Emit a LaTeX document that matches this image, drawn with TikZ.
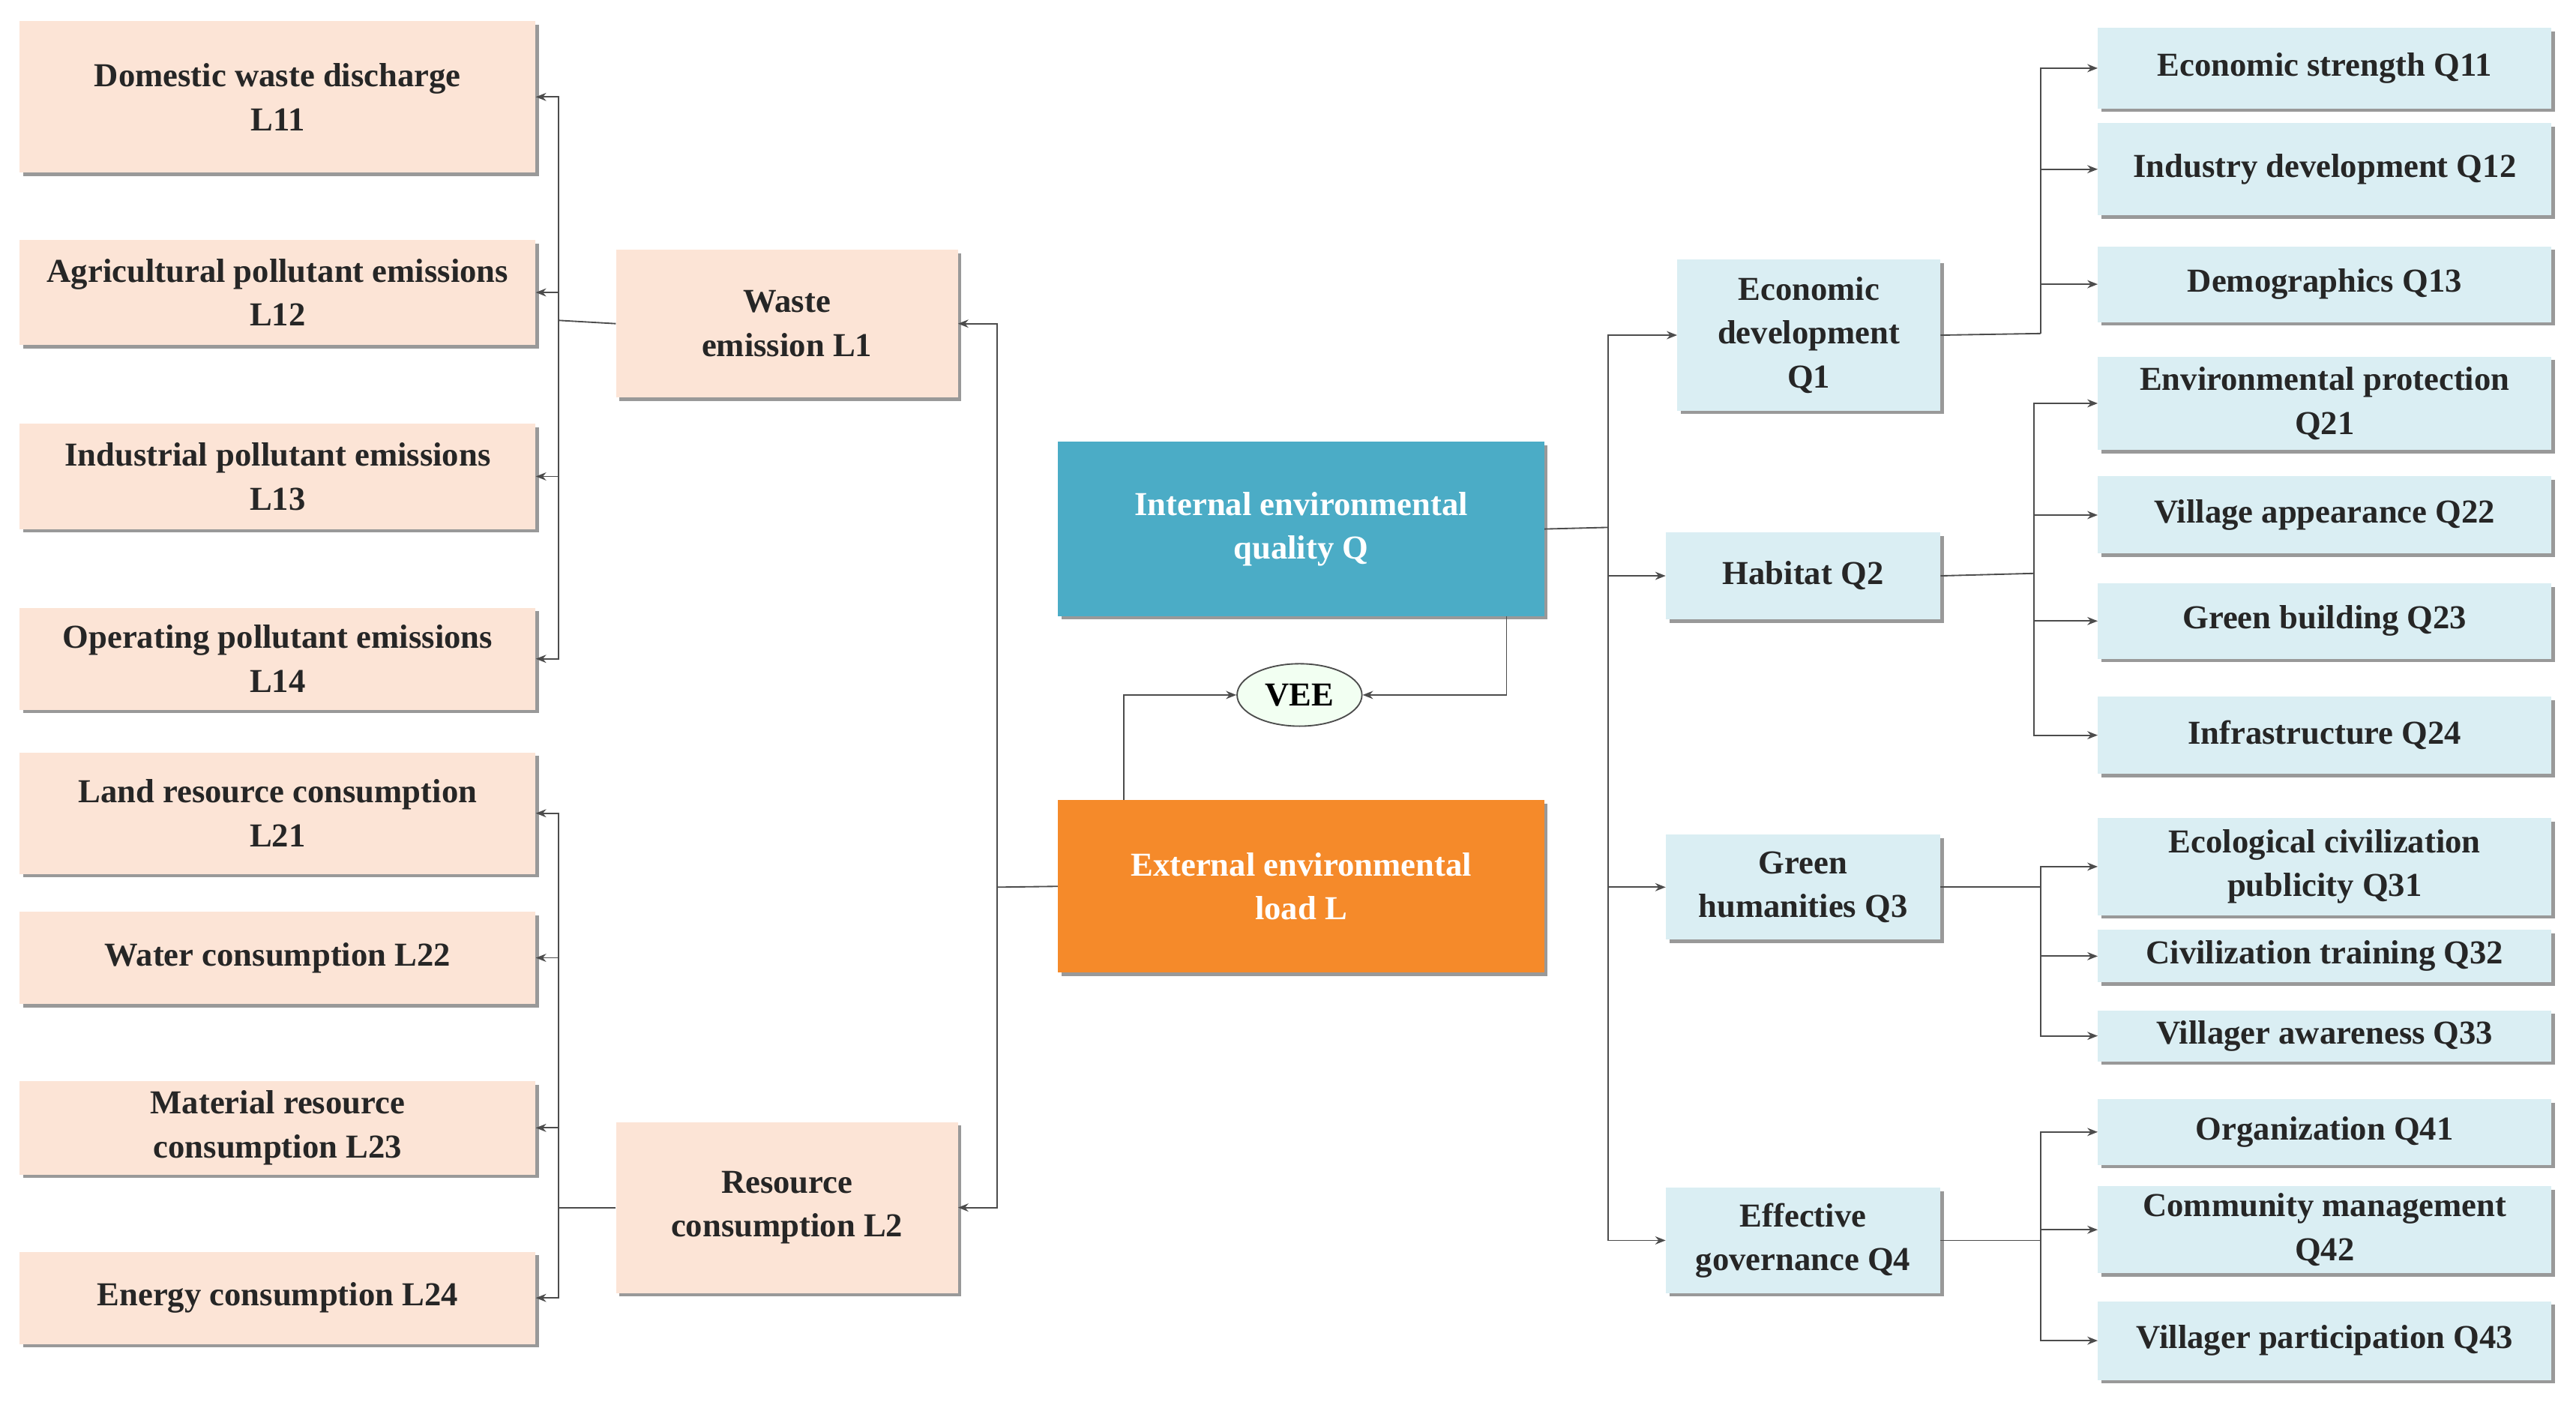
\documentclass[tikz,border=0pt]{standalone}
\usepackage{fontspec}
\setmainfont{Liberation Serif}
\usetikzlibrary{shadows,arrows.meta,shapes.geometric}
\definecolor{peach}{HTML}{FCE4D6}
\definecolor{lblue}{HTML}{DAEEF3}
\definecolor{teal}{HTML}{4BACC6}
\definecolor{orng}{HTML}{F58A2A}
\tikzset{
 bxs/.style={inner sep=0pt, align=center, font=\fontsize{29}{38}\selectfont\bfseries,
   drop shadow={shadow xshift=3pt, shadow yshift=-3pt, fill=black!40, opacity=1}},
 pch/.style={bxs, fill=peach, text=black!85},
 blu/.style={bxs, fill=lblue, text=black!85},
 tl/.style={bxs, fill=teal, text=white},
 org/.style={bxs, fill=orng, text=white},
 con/.style={draw=black!70, line width=1.2pt, -{Stealth[length=9pt,width=7pt]}},
 ln/.style={draw=black!70, line width=1.2pt}
}
\newcommand\bx[7]{\node[#6, minimum width={(#4-#2)*0.05cm}, minimum height={(#5-#3)*0.05cm}] (#1) at ({(#2+#4)/2},{(#3+#5)/2}) {#7};}
\begin{document}
\begin{tikzpicture}[x=0.05cm,y=-0.05cm]
\useasboundingbox (0,0) rectangle (1568,853);
\bx{L11}{12}{13}{326}{105}{pch}{Domestic waste discharge\\L11}
\bx{L12}{12}{146}{326}{210}{pch}{Agricultural pollutant emissions\\L12}
\bx{L13}{12}{258}{326}{322}{pch}{Industrial pollutant emissions\\L13}
\bx{L14}{12}{370}{326}{432}{pch}{Operating pollutant emissions\\L14}
\bx{L21}{12}{458}{326}{532}{pch}{Land resource consumption\\L21}
\bx{L22}{12}{555}{326}{611}{pch}{Water consumption L22}
\bx{L23}{12}{658}{326}{715}{pch}{Material resource\\consumption L23}
\bx{L24}{12}{762}{326}{818}{pch}{Energy consumption L24}
\bx{L1}{375}{152}{583}{242}{pch}{Waste\\emission L1}
\bx{L2}{375}{683}{583}{787}{pch}{Resource\\consumption L2}
\bx{Q}{644}{269}{940}{375}{tl}{Internal environmental\\quality Q}
\bx{L}{644}{487}{940}{592}{org}{External environmental\\load L}
\node[ellipse, draw=black!70, line width=1.2pt, fill=green!5!white, minimum width=76*0.05cm, minimum height=38*0.05cm, inner sep=0pt, font=\fontsize{29}{38}\selectfont\bfseries] (V) at (791,423) {VEE};
\bx{Q1}{1021}{158}{1181}{250}{blu}{Economic\\development\\Q1}
\bx{Q2}{1014}{324}{1181}{377}{blu}{Habitat Q2}
\bx{Q3}{1014}{508}{1181}{572}{blu}{Green\\humanities Q3}
\bx{Q4}{1014}{723}{1181}{787}{blu}{Effective\\governance Q4}
\bx{Q11}{1277}{17}{1553}{66}{blu}{Economic strength Q11}
\bx{Q12}{1277}{75}{1553}{131}{blu}{Industry development Q12}
\bx{Q13}{1277}{150}{1553}{196}{blu}{Demographics Q13}
\bx{Q21}{1277}{217}{1553}{274}{blu}{Environmental protection\\Q21}
\bx{Q22}{1277}{290}{1553}{337}{blu}{Village appearance Q22}
\bx{Q23}{1277}{355}{1553}{401}{blu}{Green building Q23}
\bx{Q24}{1277}{424}{1553}{471}{blu}{Infrastructure Q24}
\bx{Q31}{1277}{498}{1553}{557}{blu}{Ecological civilization\\publicity Q31}
\bx{Q32}{1277}{566}{1553}{598}{blu}{Civilization training Q32}
\bx{Q33}{1277}{615}{1553}{646}{blu}{Villager awareness Q33}
\bx{Q41}{1277}{669}{1553}{709}{blu}{Organization Q41}
\bx{Q42}{1277}{722}{1553}{775}{blu}{Community management\\Q42}
\bx{Q43}{1277}{792}{1553}{840}{blu}{Villager participation Q43}
% left connectors
\coordinate (b1) at (340,195);
\draw[ln] (L1.west) -- (b1);
\foreach \n in {L11,L12,L13,L14} \draw[con] (b1) |- (\n.east);
\coordinate (b2) at (340,735);
\draw[ln] (L2.west) -- (b2);
\foreach \n in {L21,L22,L23,L24} \draw[con] (b2) |- (\n.east);
\coordinate (bl) at (607,540);
\draw[ln] (L.west) -- (bl);
\draw[con] (bl) |- (L1.east);
\draw[con] (bl) |- (L2.east);
% right connectors
\coordinate (bq) at (979,321);
\draw[ln] (Q.east) -- (bq);
\foreach \n in {Q1,Q2,Q3,Q4} \draw[con] (bq) |- (\n.west);
\coordinate (c1) at (1242,203);
\draw[ln] (Q1.east) -- (c1);
\foreach \n in {Q11,Q12,Q13} \draw[con] (c1) |- (\n.west);
\coordinate (c2) at (1238,349);
\draw[ln] (Q2.east) -- (c2);
\foreach \n in {Q21,Q22,Q23,Q24} \draw[con] (c2) |- (\n.west);
\coordinate (c3) at (1242,540);
\draw[ln] (Q3.east) -- (c3);
\foreach \n in {Q31,Q32,Q33} \draw[con] (c3) |- (\n.west);
\coordinate (c4) at (1242,755);
\draw[ln] (Q4.east) -- (c4);
\foreach \n in {Q41,Q42,Q43} \draw[con] (c4) |- (\n.west);
% VEE
\draw[con] (684,487) |- (V.west);
\draw[con] (917,375) |- (V.east);
\end{tikzpicture}
\end{document}
